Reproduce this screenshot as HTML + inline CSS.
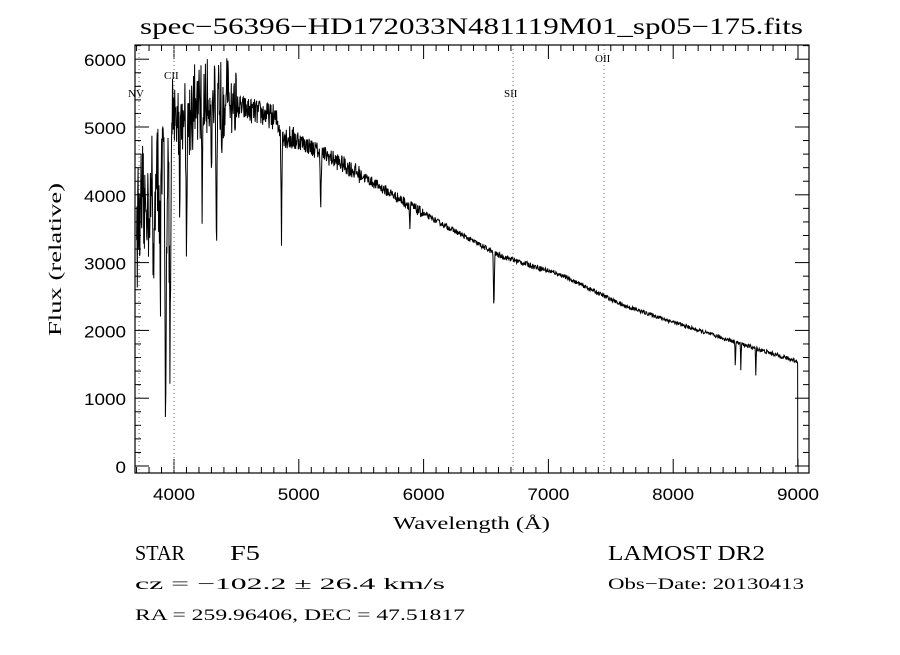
<!DOCTYPE html>
<html><head><meta charset="utf-8"><style>
body{margin:0;background:#fff;}
svg text{font-family:"Liberation Serif",serif;fill:#000;}
</style></head><body>
<svg id="s" width="900" height="650" xmlns="http://www.w3.org/2000/svg">
<rect width="900" height="650" fill="#fff"/>
<text x="140" y="34" font-size="23" textLength="663" lengthAdjust="spacingAndGlyphs">spec−56396−HD172033N481119M01_sp05−175.fits</text>
<g id="ax"></g>
<path id="sp" fill="none" stroke="#000" stroke-width="1"/>
<rect x="135" y="45" width="674" height="428" fill="none" stroke="#000" stroke-width="1.2"/>
<text x="393" y="529" font-size="18" textLength="157" lengthAdjust="spacingAndGlyphs">Wavelength (Å)</text>
<text font-size="18" transform="translate(61,336) rotate(-90)" textLength="153" lengthAdjust="spacingAndGlyphs">Flux (relative)</text>
<g font-size="11">
<text x="128" y="97">NV</text><text x="164" y="79">CII</text>
<text x="504" y="97">SII</text><text x="595" y="62">OII</text>
</g>
<g font-size="21"><text x="135" y="560" textLength="50" lengthAdjust="spacingAndGlyphs">STAR</text><text x="230" y="560" textLength="30" lengthAdjust="spacingAndGlyphs">F5</text><text x="608" y="560" textLength="157" lengthAdjust="spacingAndGlyphs">LAMOST DR2</text></g>
<g font-size="16"><text x="135" y="589" textLength="310" lengthAdjust="spacingAndGlyphs">cz = −102.2 ± 26.4 km/s</text><text x="608" y="589" textLength="196" lengthAdjust="spacingAndGlyphs">Obs−Date: 20130413</text>
<text x="135" y="620" textLength="330" lengthAdjust="spacingAndGlyphs">RA = 259.96406, DEC =  47.51817</text></g>
</svg>
<script>
var X=w=>174+(w-4000)*0.1248, Y=f=>466-f*0.0678;
var ax=document.getElementById('ax'),h='';
for(var w=3700;w<=9080;w+=100){var x=X(w),big=w%1000==0,l=big?14:6;
h+=`<line x1="${x}" y1="473" x2="${x}" y2="${473-l}" stroke="#000"/><line x1="${x}" y1="45" x2="${x}" y2="${45+l}" stroke="#000"/>`;
if(big)h+=`<text x="${x-21}" y="500" font-size="17" textLength="42" lengthAdjust="spacingAndGlyphs" style="font-family:'Liberation Sans',sans-serif">${w}</text>`;}
for(var f=0;f<=6200;f+=200){var y=Y(f),big=f%1000==0,l=big?14:6;
h+=`<line x1="135" y1="${y}" x2="${135+l}" y2="${y}" stroke="#000"/><line x1="809" y1="${y}" x2="${809-l}" y2="${y}" stroke="#000"/>`;
if(big){var s2=String(f),tw=s2.length*10.5;h+=`<text x="${126-tw}" y="${y+7}" font-size="17" textLength="${tw}" lengthAdjust="spacingAndGlyphs" style="font-family:'Liberation Sans',sans-serif">${f}</text>`;}}
[3720,4000,6717,7446].forEach(w=>{h+=`<line x1="${X(w)}" y1="45" x2="${X(w)}" y2="473" stroke="#806080" stroke-dasharray="1,3"/>`});
ax.innerHTML=h;
var C=[[3700,3600],[3800,3900],[3900,4400],[4000,5100],[4200,5300],[4400,5500],[4500,5300],[4800,5150],[4900,4850],[5000,4800],[5400,4400],[6000,3720],[6600,3110],[7100,2820],[7600,2370],[8200,2000],[8930,1580],[8990,1550]];
function cont(w){for(var i=0;i<C.length-1;i++)if(w<=C[i+1][0]){var a=C[i],b=C[i+1];return a[1]+(b[1]-a[1])*(w-a[0])/(b[0]-a[0]);}return 1550;}
var L=[[3933,3500,8],[3968,3300,8],[3890,1500,6],[3835,1200,6],[4101,1700,6],[4340,2600,6],[4861,1600,5],[5175,700,6],[5890,350,4],[6563,800,5],[8498,350,3],[8542,400,3],[8662,400,3],[4226,1500,4],[4300,900,4],[4045,1200,4],[4383,600,4]];
var s=12345;function r(){s=(s*16807)%2147483647;return s/2147483647-0.5;}
var d='';
for(var w=3700;w<=8995;w+=3){var f=cont(w);
var n=w<4000?1300:w<4500?900:w<5000?380:w<5500?260:w<6000?160:w<7000?80:60;
f+=r()*n+(w<4500?r()*n*0.6:0);
L.forEach(l=>{var dd=(w-l[0])/l[2];f-=l[1]*Math.exp(-dd*dd);});
if(f>6250)f=6250;
d+=(d?'L':'M')+X(w).toFixed(1)+','+Y(f).toFixed(1);}
d+='L'+X(8997)+','+Y(1500)+'L'+X(8998)+','+Y(0);
document.getElementById('sp').setAttribute('d',d);
</script>
</body></html>
